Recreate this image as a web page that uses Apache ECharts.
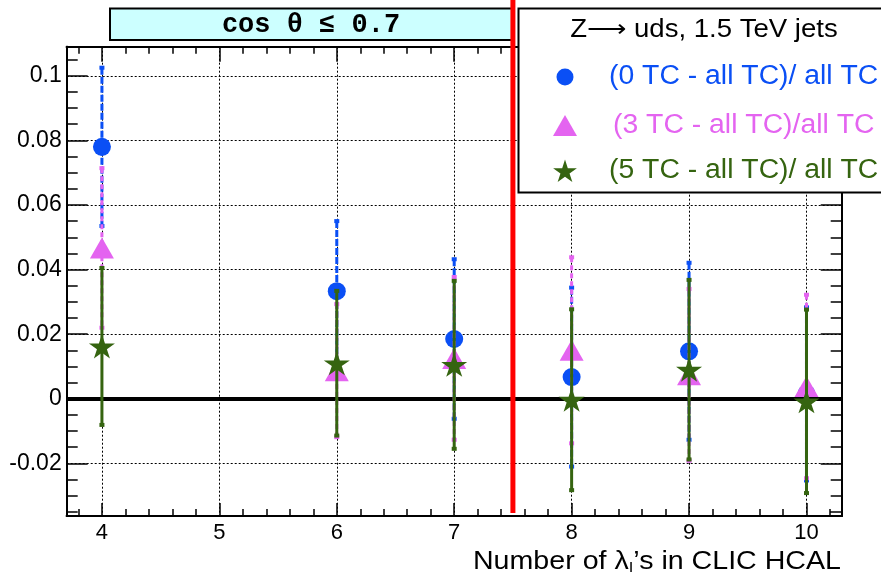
<!DOCTYPE html>
<html>
<head>
<meta charset="utf-8">
<script src="https://cdn.jsdelivr.net/npm/echarts@6/dist/echarts.min.js"></script>
<style>html,body{margin:0;padding:0;background:#fff}#c{width:881px;height:580px}</style>
</head>
<body>
<div id="c"></div>
<script>
// ---------- data ----------
const xCats = [4, 6, 7, 8, 9, 10];
const seriesNames = ['(0 TC - all TC)/ all TC', '(3 TC - all TC)/all TC', '(5 TC - all TC)/ all TC'];
const tc0Values = [0.0780, 0.0333, 0.0185, 0.0067, 0.0147, 0.0015];
const tc0Errors = [0.0245, 0.0217, 0.0247, 0.0277, 0.0274, 0.0268];
const tc3Values = [0.0467, 0.0087, 0.0125, 0.0150, 0.0074, 0.0038];
const tc3Errors = [0.0247, 0.0206, 0.0252, 0.0288, 0.0266, 0.0284];
const tc5Values = [0.0162, 0.0110, 0.0105, -0.0003, 0.0090, -0.0008];
const tc5Errors = [0.0243, 0.0224, 0.0260, 0.0280, 0.0278, 0.0284];
const xTickLabels = [4, 5, 6, 7, 8, 9, 10];
const yTickLabels = [-0.02, 0, 0.02, 0.04, 0.06, 0.08, 0.1];
const titleText = 'cos \u03b8 \u2264 0.7';
const legendTitle = 'Z\u27f6 uds, 1.5 TeV jets';
const cutValue = 7.5;

// ---------- styles ----------
const colors = ['#0a4ff5', '#e464f0', '#356410'];
const xMin = 3.7, xMax = 10.3, yMin = -0.0363, yMax = 0.109;
const starPath = 'path://M50,0 L61.2,34.5 L97.6,34.5 L68.2,55.9 L79.4,90.5 L50,69.1 L20.6,90.5 L31.8,55.9 L2.4,34.5 L38.8,34.5 Z';
const symbols = ['circle', 'triangle', starPath];
const symbolSizes = [18, [24, 21], [26, 24]];
const dashes = [[7, 2], [5, 3], null];

const xMinor = [], yMinor = [];
for (let i = 0; i <= 40; i++) { const v = Math.round((3.6 + i * 0.2) * 10) / 10; if (v > xMin && v < xMax && Math.abs(v - Math.round(v)) > 1e-6) xMinor.push(v); }
for (let i = 0; i <= 40; i++) { const v = Math.round((-0.04 + i * 0.005) * 1000) / 1000; if (v > yMin && v < yMax && Math.abs(v * 50 - Math.round(v * 50)) > 1e-6) yMinor.push(v); }

const FONT = 'Liberation Sans';
const axisLine = { show: true, onZero: false, lineStyle: { color: '#000', width: 2 } };
const tickStyle = { color: '#000', width: 1.5 };

function xAx(pos, major) {
  return {
    type: 'value', position: pos, min: xMin, max: xMax,
    axisLine: axisLine,
    axisTick: { show: true, inside: true, length: major ? (pos === 'top' ? 15 : 13) : 7, customValues: major ? xTickLabels : xMinor, lineStyle: tickStyle },
    axisLabel: (pos === 'bottom' && major) ? { show: true, customValues: xTickLabels, fontSize: 22, fontFamily: FONT, color: '#000', margin: 6 } : { show: false },
    splitLine: (pos === 'bottom' && major) ? { show: true, lineStyle: { color: '#000', width: 1, type: [2, 2] } } : { show: false }
  };
}
function yAx(pos, major) {
  return {
    type: 'value', position: pos, min: yMin, max: yMax,
    axisLine: axisLine,
    axisTick: { show: true, inside: true, length: major ? 21 : 11, customValues: major ? yTickLabels : yMinor, lineStyle: tickStyle },
    axisLabel: (pos === 'left' && major) ? { show: true, customValues: yTickLabels, fontSize: 23, fontFamily: FONT, color: '#000', margin: 5 } : { show: false },
    splitLine: (pos === 'left' && major) ? { show: true, lineStyle: { color: '#000', width: 1, type: [2, 2] } } : { show: false }
  };
}

const allVals = [tc0Values, tc3Values, tc5Values];
const allErrs = [tc0Errors, tc3Errors, tc5Errors];
const series = [];
allVals.forEach((vals, s) => {
  const col = colors[s];
  series.push({
    type: 'custom', name: seriesNames[s] + ' err', z: 3 + 2 * s,
    data: xCats.map((x, i) => [x, vals[i], allErrs[s][i]]),
    renderItem: function (params, api) {
      const x = api.value(0), v = api.value(1), e = api.value(2);
      const t = api.coord([x, v + e]), b = api.coord([x, v - e]);
      const st = { stroke: col, lineWidth: 3 };
      if (dashes[s]) st.lineDash = dashes[s];
      return { type: 'group', children: [
        { type: 'line', shape: { x1: t[0], y1: t[1], x2: b[0], y2: b[1] }, style: st },
        { type: 'rect', shape: { x: t[0] - 2.5, y: t[1] - 2, width: 5, height: 4 }, style: { fill: col } },
        { type: 'rect', shape: { x: b[0] - 2.5, y: b[1] - 2, width: 5, height: 4 }, style: { fill: col } }
      ]};
    }
  });
  series.push({
    type: 'scatter', name: seriesNames[s], z: 4 + 2 * s,
    symbol: symbols[s], symbolSize: symbolSizes[s],
    itemStyle: { color: col, opacity: 1 },
    data: xCats.map((x, i) => [x, vals[i]])
  });
});
// zero line
series.push({
  type: 'line', name: 'zero', z: 2, data: [], symbol: 'none',
  markLine: { silent: true, symbol: 'none', label: { show: false }, lineStyle: { color: '#000', width: 4, type: 'solid' }, data: [{ yAxis: 0 }] }
});
// red cut line
series.push({
  type: 'line', name: 'cut', z: 10, clip: false, symbol: 'none',
  lineStyle: { color: '#ff0000', width: 5 },
  data: [[cutValue, -0.0354], [cutValue, 0.1236]]
});

const legendX = 565, legendTextX = 609;
const legendYs = [77, 126, 171];
function starPoints(cx, cy, R) {
  const pts = [];
  for (let k = 0; k < 10; k++) {
    const r = k % 2 === 0 ? R : R * 0.382;
    const a = -Math.PI / 2 + k * Math.PI / 5;
    pts.push([cx + r * Math.cos(a), cy + r * Math.sin(a)]);
  }
  return pts;
}
function legendText(i, x) {
  return { type: 'text', z: 21, x: x, y: legendYs[i], scaleX: 1.05, style: { text: seriesNames[i], font: '27px "Liberation Sans"', fill: colors[i], align: 'left', verticalAlign: 'middle' } };
}

const chart = echarts.init(document.getElementById('c'), null, { renderer: 'canvas' });
chart.setOption({
  animation: false,
  backgroundColor: '#fff',
  grid: { left: 66.7, right: 39.3, top: 46.7, bottom: 64, containLabel: false },
  xAxis: [xAx('bottom', true), xAx('bottom', false), xAx('top', true), xAx('top', false)],
  yAxis: [yAx('left', true), yAx('left', false), yAx('right', true), yAx('right', false)],
  series: series,
  graphic: [
    { type: 'rect', z: 1, shape: { x: 110, y: 8.5, width: 402, height: 31.5 }, style: { fill: '#ccffff', stroke: '#000', lineWidth: 2 } },
    { type: 'text', z: 1, x: 311, y: 25, style: { text: titleText, font: 'bold 27px "Liberation Mono"', fill: '#000', align: 'center', verticalAlign: 'middle' } },
    { type: 'rect', z: 20, shape: { x: 518.5, y: 8.5, width: 400, height: 184 }, style: { fill: '#fff', stroke: '#000', lineWidth: 2 } },
    { type: 'text', z: 21, x: 704, y: 30, scaleX: 1.06, style: { text: legendTitle, font: '26px "Liberation Sans"', fill: '#000', align: 'center', verticalAlign: 'middle' } },
    { type: 'circle', z: 21, shape: { cx: legendX, cy: legendYs[0], r: 8.5 }, style: { fill: colors[0] } },
    { type: 'polygon', z: 21, shape: { points: [[legendX - 12, legendYs[1] + 10], [legendX + 12, legendYs[1] + 10], [legendX, legendYs[1] - 11]] }, style: { fill: colors[1] } },
    { type: 'polygon', z: 21, shape: { points: starPoints(legendX, legendYs[2] + 1, 12.5) }, style: { fill: colors[2] } },
    legendText(0, legendTextX),
    legendText(1, legendTextX + 4),
    legendText(2, legendTextX),
    { type: 'text', z: 21, x: 841, y: 575, scaleX: 1.1, style: {
        text: '{a|Number of \u03bb}{s|I}{a|\u2019s in CLIC HCAL}', align: 'right', verticalAlign: 'bottom', fill: '#000',
        rich: { a: { fontSize: 26, fontFamily: FONT, lineHeight: 30, verticalAlign: 'bottom' }, s: { fontSize: 15, fontFamily: FONT, lineHeight: 14, verticalAlign: 'bottom' } } } }
  ]
});
</script>
</body>
</html>
